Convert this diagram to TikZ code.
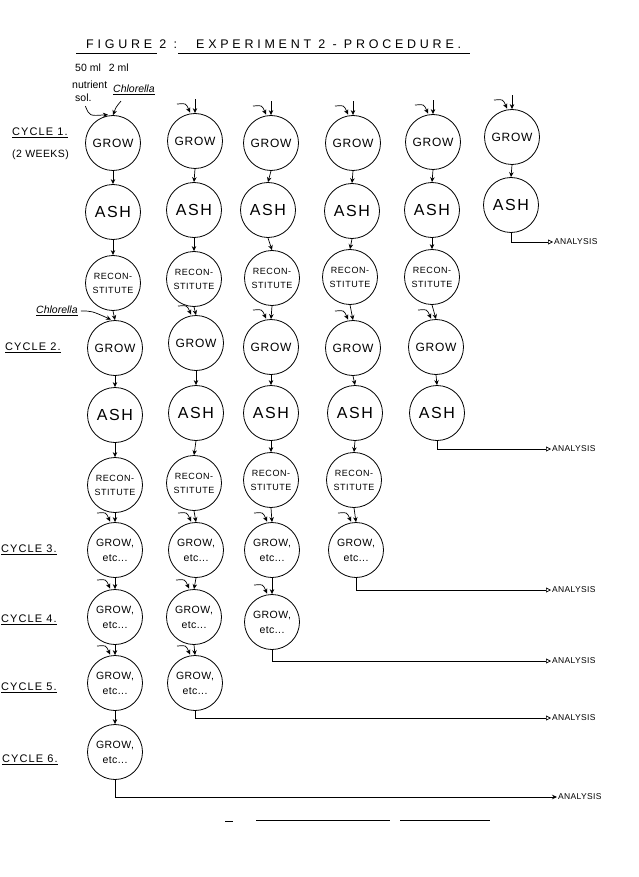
\documentclass[tikz,border=0pt]{standalone}
\usepackage{fontspec}
\setmainfont{Liberation Sans}
\usetikzlibrary{arrows.meta,calc}
\begin{document}
\begin{tikzpicture}[x=1pt,y=-1pt,
  procbox/.style={circle,draw,line width=0.8pt,minimum size=55pt,inner sep=0pt,align=center},
  growbox/.style={procbox,font=\fontsize{12}{13}\selectfont\addfontfeature{LetterSpace=6}},
  growetcbox/.style={procbox,font=\fontsize{10.5}{15}\selectfont\addfontfeature{LetterSpace=4}},
  ashbox/.style={procbox,font=\fontsize{16}{17}\selectfont\addfontfeature{LetterSpace=10}},
  reconbox/.style={procbox,font=\fontsize{9}{14}\selectfont\addfontfeature{LetterSpace=6}},
  flowarr/.style={-{Stealth[length=5pt,width=4.5pt]},line width=0.7pt},
  anaarr/.style={-{Triangle[open,length=5pt,width=5pt]},line width=0.7pt},
  analab/.style={anchor=west,inner sep=1pt,font=\fontsize{8.5}{9}\selectfont\addfontfeature{LetterSpace=4}},
  cyclab/.style={anchor=west,inner sep=0pt,font=\fontsize{11}{12}\selectfont\addfontfeature{LetterSpace=10}},
  notelab/.style={anchor=west,inner sep=0pt,font=\fontsize{10.5}{11}\selectfont}]
\useasboundingbox (0,0) rectangle (638,877);
\fill[white] (0,0) rectangle (638,877);
% title
\node[anchor=west,inner sep=0pt,font=\fontsize{12.5}{13}\selectfont\addfontfeature{LetterSpace=30}] (title1) at (86,44) {FIGURE 2 :};
\node[anchor=west,inner sep=0pt,font=\fontsize{12.5}{13}\selectfont\addfontfeature{LetterSpace=30}] (title2) at (196,44) {EXPERIMENT 2 - PROCEDURE.};
\draw[line width=0.6pt] (76,53) -- (157,53) (178,53) -- (470,53);
% top-left notes
\node[notelab] (n50) at (75,68) {50 ml\hspace{8pt}2 ml};
\node[notelab] (nnut) at (72,85) {nutrient};
\node[notelab] (nsol) at (75,98) {sol.};
\node[notelab,font=\fontsize{10.5}{11}\selectfont\itshape] (nchl) at (113,90) {\underline{Chlorella}};
% cycle labels
\node[cyclab] (c1) at (12,133) {\underline{CYCLE 1.}};
\node[cyclab,font=\fontsize{10.5}{12}\selectfont\addfontfeature{LetterSpace=4}] (c1w) at (12,155) {(2 WEEKS)};
\node[cyclab] (c2) at (5,348) {\underline{CYCLE 2.}};
\node[cyclab] (c3) at (1,550) {\underline{CYCLE 3.}};
\node[cyclab] (c4) at (1,620) {\underline{CYCLE 4.}};
\node[cyclab] (c5) at (1,688) {\underline{CYCLE 5.}};
\node[cyclab] (c6) at (2,760) {\underline{CYCLE 6.}};
\node[notelab,font=\fontsize{10.5}{11}\selectfont\itshape] (nchl2) at (36,311) {\underline{Chlorella}};
% column 1
\node[growbox] (g11) at (113,143) {GROW};
\node[ashbox] (a11) at (113,212) {ASH};
\node[reconbox] (r11) at (113,283) {RECON-\\STITUTE};
\node[growbox] (g12) at (115,348) {GROW};
\node[ashbox] (a12) at (115,415) {ASH};
\node[reconbox] (r12) at (115,485) {RECON-\\STITUTE};
\node[growetcbox] (g13) at (115,550) {GROW,\\etc...};
\node[growetcbox] (g14) at (115,617) {GROW,\\etc...};
\node[growetcbox] (g15) at (115,683) {GROW,\\etc...};
\node[growetcbox] (g16) at (115,752) {GROW,\\etc...};
% column 2
\node[growbox] (g21) at (195,141) {GROW};
\node[ashbox] (a21) at (194,210) {ASH};
\node[reconbox] (r21) at (194,279) {RECON-\\STITUTE};
\node[growbox] (g22) at (196,343) {GROW};
\node[ashbox] (a22) at (196,413) {ASH};
\node[reconbox] (r22) at (194,483) {RECON-\\STITUTE};
\node[growetcbox] (g23) at (196,550) {GROW,\\etc...};
\node[growetcbox] (g24) at (194,617) {GROW,\\etc...};
\node[growetcbox] (g25) at (195,683) {GROW,\\etc...};
% column 3
\node[growbox] (g31) at (271,143) {GROW};
\node[ashbox] (a31) at (268,210) {ASH};
\node[reconbox] (r31) at (272,278) {RECON-\\STITUTE};
\node[growbox] (g32) at (271,347) {GROW};
\node[ashbox] (a32) at (271,413) {ASH};
\node[reconbox] (r32) at (271,480) {RECON-\\STITUTE};
\node[growetcbox] (g33) at (272,550) {GROW,\\etc...};
\node[growetcbox] (g34) at (272,622) {GROW,\\etc...};
% column 4
\node[growbox] (g41) at (353,143) {GROW};
\node[ashbox] (a41) at (352,211) {ASH};
\node[reconbox] (r41) at (350,277) {RECON-\\STITUTE};
\node[growbox] (g42) at (353,348) {GROW};
\node[ashbox] (a42) at (355,413) {ASH};
\node[reconbox] (r42) at (354,480) {RECON-\\STITUTE};
\node[growetcbox] (g43) at (356,550) {GROW,\\etc...};
% column 5
\node[growbox] (g51) at (433,142) {GROW};
\node[ashbox] (a51) at (432,210) {ASH};
\node[reconbox] (r51) at (432,277) {RECON-\\STITUTE};
\node[growbox] (g52) at (436,347) {GROW};
\node[ashbox] (a52) at (437,413) {ASH};
% column 6
\node[growbox] (g61) at (512,137) {GROW};
\node[ashbox] (a61) at (511,205) {ASH};
% vertical flows
\foreach \u/\v in {g11/a11,a11/r11,r11/g12,g12/a12,a12/r12,r12/g13,g13/g14,g14/g15,g15/g16,
  g21/a21,a21/r21,r21/g22,g22/a22,a22/r22,r22/g23,g23/g24,g24/g25,
  g31/a31,a31/r31,r31/g32,g32/a32,a32/r32,r32/g33,g33/g34,
  g41/a41,a41/r41,r41/g42,g42/a42,a42/r42,r42/g43,
  g51/a51,a51/r51,r51/g52,g52/a52,
  g61/a61}
  \draw[flowarr] (\u.south) -- (\v.north);
% free top inputs, row 1
\foreach \n in {g21,g31,g41,g51,g61} {
  \coordinate (\n top) at ($(\n.north)+(0,-14)$);
  \draw[flowarr] (\n top) -- (\n.north);
}
% curved side inputs
\foreach \n in {g21,g31,g41,g51,g61,g22,g32,g42,g52,g13,g23,g33,g43,g14,g24,g34,g15,g25} {
  \coordinate (\n side) at ($(\n.north)+(-18,-9)$);
  \draw[flowarr] (\n side) .. controls ($(\n.north)+(-9,-10)$) .. ($(\n.north)+(-5,-0.5)$);
}
% notes into first grow
\draw[flowarr] ($(nsol.south)+(2,4)$) .. controls ($(nsol.south)+(6,14)$) .. ($(g11.north)+(-5,-0.5)$);
\draw[flowarr] ($(nchl.south west)+(8,6)$) .. controls ($(nchl.south west)+(3,12)$) .. ($(g11.north)+(0,0)$);
\draw[flowarr] ($(nchl2.east)+(3,0)$) .. controls ($(nchl2.east)+(14,0)$) .. ($(g12.north)+(-4,-0.5)$);
% analysis
\node[analab] (an1) at (553,242) {ANALYSIS};
\node[analab] (an2) at (551,449) {ANALYSIS};
\node[analab] (an3) at (551,590) {ANALYSIS};
\node[analab] (an4) at (551,661) {ANALYSIS};
\node[analab] (an5) at (551,718) {ANALYSIS};
\node[analab] (an6) at (557,797) {ANALYSIS};
\draw[anaarr] (a61.south) |- (an1.west);
\draw[anaarr] (a52.south) |- (an2.west);
\draw[anaarr] (g43.south) |- (an3.west);
\draw[anaarr] (g34.south) |- (an4.west);
\draw[anaarr] (g25.south) |- (an5.west);
\draw[flowarr] (g16.south) |- (an6.west);
% stray marks at bottom
\draw[line width=0.6pt] (225,821) -- (233,821) (256,820) -- (390,820) (400,820) -- (490,820);
\end{tikzpicture}
\end{document}
